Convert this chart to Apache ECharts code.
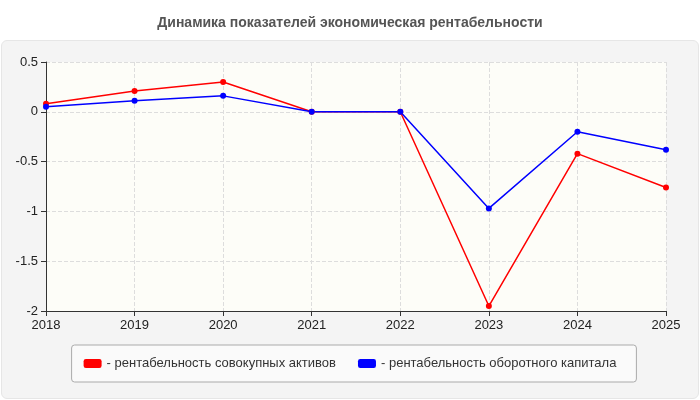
<!DOCTYPE html>
<html>
<head>
<meta charset="utf-8">
<script src="https://cdn.jsdelivr.net/npm/echarts@6/dist/echarts.min.js"></script>
<style>
html, body { margin: 0; padding: 0; background: #fff; }
#panel { position: absolute; left: 1px; top: 40px; width: 696px; height: 357px; background: #f4f4f4; border: 1px solid #e6e6e6; border-radius: 6px; }
#chart { position: absolute; left: 0; top: 0; width: 700px; height: 400px; }
</style>
</head>
<body>
<div id="panel"></div>
<div id="chart"></div>
<script>
var years = ['2018', '2019', '2020', '2021', '2022', '2023', '2024', '2025'];
var assets = [0.08, 0.21, 0.3, 0, 0, -1.95, -0.42, -0.76];
var capital = [0.05, 0.11, 0.16, 0, 0, -0.97, -0.2, -0.38];
var names = ['- рентабельность совокупных активов', '- рентабельность оборотного капитала'];

var myChart = echarts.init(document.getElementById('chart'));

function line(name, values, color) {
    return {
        name: name,
        type: 'line',
        data: values,
        symbol: 'circle',
        symbolSize: 6,
        lineStyle: { color: color, width: 1.5 },
        itemStyle: { color: color },
        animation: false
    };
}

var option = {
    title: {
        text: 'Динамика показателей экономическая рентабельности',
        left: 'center',
        top: 11,
        textStyle: { fontFamily: 'Arial', fontSize: 14, fontWeight: 'bold', color: '#555' }
    },
    legend: {
        bottom: 18,
        left: 'center',
        itemWidth: 18,
        itemHeight: 9,
        itemGap: 22,
        padding: [12, 20, 12, 12],
        borderColor: '#aaa',
        borderWidth: 1,
        borderRadius: 3,
        backgroundColor: '#fafafa',
        icon: 'roundRect',
        textStyle: { fontFamily: 'Arial', fontSize: 13, color: '#333' },
        data: names
    },
    grid: { left: 46, right: 34, top: 62, bottom: 89, show: true, backgroundColor: '#fdfdf8', borderWidth: 0 },
    xAxis: {
        type: 'category',
        data: years,
        boundaryGap: false,
        axisLine: { onZero: false, lineStyle: { color: '#333' } },
        axisTick: { show: true, lineStyle: { color: '#333' } },
        axisLabel: { color: '#222', fontFamily: 'Arial', fontSize: 13 },
        splitLine: { show: true, lineStyle: { color: '#ddd', type: 'dashed' } }
    },
    yAxis: {
        type: 'value',
        min: -2,
        max: 0.5,
        interval: 0.5,
        axisLine: { show: true, lineStyle: { color: '#333' } },
        axisTick: { show: true, lineStyle: { color: '#333' } },
        axisLabel: { color: '#222', fontFamily: 'Arial', fontSize: 13 },
        splitLine: { show: true, lineStyle: { color: '#ddd', type: 'dashed' } }
    },
    series: [line(names[0], assets, '#ff0000'), line(names[1], capital, '#0000ff')]
};

myChart.setOption(option);
window.onresize = myChart.resize;
</script>
</body>
</html>
